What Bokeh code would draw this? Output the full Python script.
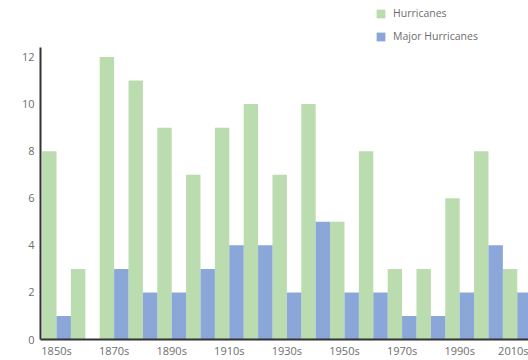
from bokeh.plotting import figure
from bokeh.models import Range1d, FixedTicker, Legend, LegendItem
from bokeh.embed import file_html
from bokeh.resources import INLINE

# Hurricane counts per decade
decades = ["1850s", "1860s", "1870s", "1880s", "1890s", "1900s", "1910s", "1920s",
           "1930s", "1940s", "1950s", "1960s", "1970s", "1980s", "1990s", "2000s", "2010s"]
hurricanes = [8, 3, 12, 11, 9, 7, 9, 10, 7, 10, 5, 8, 3, 3, 6, 8, 3]
major_hurricanes = [1, 0, 3, 2, 2, 3, 4, 4, 2, 5, 2, 2, 1, 1, 2, 4, 2]
y_ticks = [0, 2, 4, 6, 8, 10, 12]

GREEN = "#bbdcae"
BLUE = "#8ba7d9"
TEXT = "#6e6e6e"
FONT = "Open Sans"

idx = list(range(len(decades)))
x_green = [i - 0.25 for i in idx]
x_blue = [i + 0.25 for i in idx]

p = figure(width=528, height=360, output_backend="svg", toolbar_location=None,
           x_range=Range1d(-0.556, 16.39), y_range=Range1d(0, 14.4),
           min_border_left=40, min_border_right=0, min_border_top=0,
           min_border_bottom=20)
p.outline_line_color = None
p.background_fill_color = "white"
p.border_fill_color = "white"
p.grid.visible = False

g = p.vbar(x=x_green, top=hurricanes, width=0.5, fill_color=GREEN, line_color=None)
b = p.vbar(x=x_blue, top=major_hurricanes, width=0.5, fill_color=BLUE, line_color=None)

for ax in (p.xaxis[0], p.yaxis[0]):
    ax.axis_line_color = "#333333"
    ax.axis_line_width = 2
    ax.major_tick_line_color = None
    ax.minor_tick_line_color = None
    ax.major_tick_out = 0
    ax.major_tick_in = 0
    ax.minor_tick_out = 0
    ax.minor_tick_in = 0
    ax.major_label_text_font = FONT
    ax.major_label_text_font_size = "11px"
    ax.major_label_text_color = TEXT

# x axis: label every other decade
xa = p.xaxis[0]
xa.ticker = FixedTicker(ticks=idx[::2])
xa.major_label_overrides = {i: decades[i] for i in idx[::2]}
xa.major_label_standoff = 3

ya = p.yaxis[0]
ya.ticker = FixedTicker(ticks=y_ticks)
ya.bounds = (0, 12.4)
ya.major_label_standoff = 6

legend = Legend(items=[LegendItem(label="Hurricanes", renderers=[g]),
                       LegendItem(label="Major Hurricanes", renderers=[b])],
                location=(335, 296), orientation="vertical",
                glyph_width=11, glyph_height=11, label_height=14,
                label_standoff=7, spacing=9, padding=0, margin=0,
                border_line_color=None, background_fill_alpha=0,
                label_text_font=FONT, label_text_font_size="10.5px",
                label_text_color=TEXT)
p.add_layout(legend, "center")

open("out.html", "w").write(file_html(p, INLINE))
